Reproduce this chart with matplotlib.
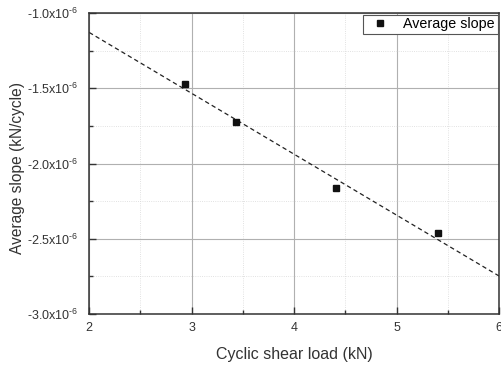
import numpy as np
import matplotlib.pyplot as plt
from matplotlib.ticker import MultipleLocator, FuncFormatter

plt.rcParams['font.family'] = ['Liberation Sans', 'DejaVu Sans']
plt.rcParams['mathtext.fontset'] = 'custom'
plt.rcParams['mathtext.rm'] = 'Liberation Sans'

# cyclic shear load (kN) and average slope (x1e-6 kN/cycle)
load = [2.94, 3.43, 4.41, 5.40]
slope = [-1.47, -1.724, -2.165, -2.464]

fig, ax = plt.subplots(figsize=(5.01, 3.66), dpi=100)
fig.subplots_adjust(left=0.178, right=0.996, top=0.964, bottom=0.142)

k, b = np.polyfit(load, slope, 1)
xf = np.array([2, 6])
ax.plot(xf, k * xf + b, color="#222222", lw=0.9, dashes=(3.5, 2.5))
ax.plot(load, slope, "s", color="#111111", ms=5, ls="none", label="Average slope")

ax.set_xlim(2, 6)
ax.set_ylim(-3.0, -1.0)
ax.xaxis.set_major_locator(MultipleLocator(1))
ax.xaxis.set_minor_locator(MultipleLocator(0.5))
ax.yaxis.set_major_locator(MultipleLocator(0.5))
ax.yaxis.set_minor_locator(MultipleLocator(0.25))
ax.yaxis.set_major_formatter(FuncFormatter(lambda v, p: f"{v:.1f}x10$^{{\\text{{-6}}}}$"))

ax.grid(which="major", color="#b0b0b0", lw=0.8)
ax.grid(which="minor", color="#d8d8d8", lw=0.6, ls=":")
ax.set_axisbelow(True)

ax.tick_params(which="both", direction="in", top=False, right=False, labelsize=9, colors="#333333")
ax.tick_params(which="major", length=5, width=1)
ax.tick_params(which="minor", length=3, width=1)
ax.tick_params(axis="x", pad=6)
ax.tick_params(axis="y", pad=8)
for s in ax.spines.values():
    s.set_linewidth(1.1)
    s.set_color("#333333")

ax.set_xlabel("Cyclic shear load (kN)", fontsize=11.5, color="#333333", labelpad=9)
ax.set_ylabel("Average slope (kN/cycle)", fontsize=11.2, color="#333333")
ax.yaxis.set_label_coords(-0.156, 0.485)

leg = ax.legend(loc="upper right", fontsize=10.3, fancybox=False, framealpha=1,
                borderaxespad=0.1, handletextpad=0.6, borderpad=0.2, markerscale=0.75)
leg.get_frame().set_edgecolor("#555555")
leg.get_frame().set_linewidth(0.8)

fig.savefig("out.png")
